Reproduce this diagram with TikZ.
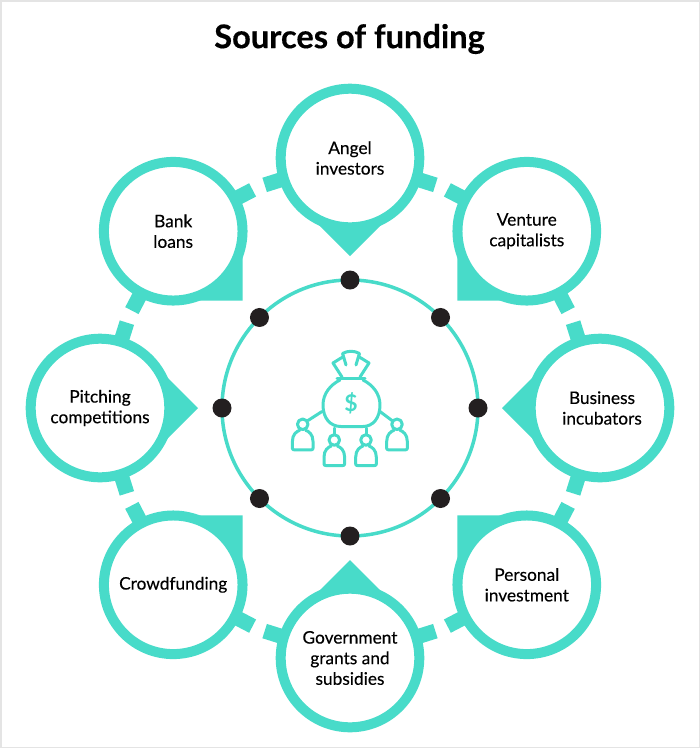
\documentclass[tikz,border=0pt]{standalone}
\usepackage{fontspec}
\setmainfont{Lato}
\usetikzlibrary{calc}
\definecolor{aqua}{HTML}{48DBC9}
\definecolor{dotink}{HTML}{231F20}
\definecolor{frameline}{HTML}{E4E4E4}
\tikzset{
  topic/.style={circle,draw=aqua,fill=white,line width=10pt,minimum size=138.6pt,inner sep=0pt,align=center,text=black,font=\fontsize{17.3}{20.6}\selectfont\addfontfeatures{FakeBold=0.25}},
  tab/.style={draw=aqua,line width=15pt},
  pointer/.style={fill=aqua},
  hub/.style={circle,draw=aqua,line width=3.5pt,minimum size=256pt,inner sep=0pt},
  stud/.style={circle,fill=dotink,minimum size=19pt,inner sep=0pt},
  ico/.style={draw=aqua,line width=3pt,line cap=round,line join=round},
  headline/.style={font=\fontsize{32.6}{36}\selectfont\bfseries\addfontfeatures{FakeBold=0.4},text=black}
}
\newcommand{\funder}[3]{%
  \draw[ico] (#1,#2) circle (5.3);
  \draw[ico] (#1-3,#2+6) .. controls (#1-6,#2+7) and (#1-10.3,#2+10) .. (#1-10.3,#2+17)
    -- (#1-10.3,#2+24) .. controls (#1-10.3,#2+25.2) and (#1-9.5,#2+25.5) .. (#1-8.5,#2+25.5)
    -- (#1+8.5,#2+25.5) .. controls (#1+9.5,#2+25.5) and (#1+10.3,#2+25.2) .. (#1+10.3,#2+24)
    -- (#1+10.3,#2+17) .. controls (#1+10.3,#2+10) and (#1+6,#2+7) .. (#1+3,#2+6);
  \coordinate (#3) at (#1,#2);
}
\begin{document}
\begin{tikzpicture}[x=1pt,y=-1pt]
\useasboundingbox (0,0) rectangle (700,748);
\fill[white] (0,0) rectangle (700,748);
\draw[frameline,line width=1.5pt] (0.75,0.75) rectangle (699.25,747.25);
\coordinate (mid) at (350,408);
\node[headline] (title) at (349.5,39) {Sources of funding};
\node[hub] (ring) at (mid) {};
\foreach \nm/\th in {a/-90,b/-45,c/0,d/45,e/90,f/135,g/180,h/225}{
  \node[stud] (dot\nm) at ($(mid)+(\th:128)$) {};
  \coordinate (cen\nm) at ($(mid)+(\th:250)$);
  \fill[pointer] (cen\nm) -- ($(cen\nm)+(\th+135:69.3)$) -- ($(cen\nm)+(\th+180:98)$) -- ($(cen\nm)+(\th+225:69.3)$) -- cycle;
  \draw[tab] ($(cen\nm)+(\th+107.5:60)$) -- ($(cen\nm)+(\th+107.5:89.5)$);
  \draw[tab] ($(cen\nm)+(\th-107.5:60)$) -- ($(cen\nm)+(\th-107.5:89.5)$);
}
\node[topic] (angel) at (cena) {Angel\\investors};
\node[topic] (venture) at (cenb) {Venture\\capitalists};
\node[topic] (business) at (cenc) {\hspace{4pt}Business\\\hspace{4pt}incubators};
\node[topic] (personal) at (cend) {Personal\\investment};
\node[topic] (gov) at (cene) {Government\\grants and\\subsidies};
\node[topic] (crowd) at (cenf) {Crowdfunding};
\node[topic] (pitch) at (ceng) {Pitching\\competitions};
\node[topic] (bank) at (cenh) {Bank\\loans};
% money bag icon
\draw[ico] (340,380) .. controls (330,385) and (323,394) .. (323,405)
  .. controls (323,418) and (330,426.5) .. (341,426.5) -- (363,426.5)
  .. controls (373,426.5) and (380,418) .. (380,405)
  .. controls (380,394) and (373,385) .. (363,380);
\draw[ico] (337,378) -- (365,378);
\draw[ico] (342,377) -- (333,363) -- (343.5,356.5) -- (346,365);
\draw[ico] (343.5,356.5) -- (342.5,353.5) .. controls (348,350.5) and (354,350.5) .. (359.5,353.5) -- (358.5,356.5) -- (356,365);
\draw[ico] (358.5,356.5) -- (369,363) -- (360,377);
\node[text=aqua,font=\fontsize{23}{23}\selectfont\bfseries,inner sep=0pt] (dollar) at (351,403) {\$};
\funder{302.7}{424.3}{p1}
\funder{334.3}{440}{p2}
\funder{366}{440}{p3}
\funder{397}{424.3}{p4}
\draw[ico] (322,411.5) -- (308,420.5);
\draw[ico] (380,411.5) -- (392,420.5);
\draw[ico] (334.3,428) -- (334.3,434.5);
\draw[ico] (366,428) -- (366,434.5);
\end{tikzpicture}
\end{document}
